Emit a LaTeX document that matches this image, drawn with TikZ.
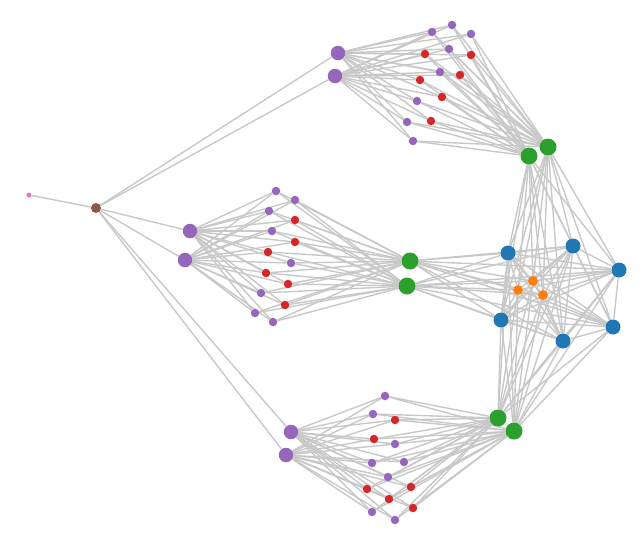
\documentclass[tikz,border=0pt]{standalone}
\usepackage{xcolor}
\usetikzlibrary{backgrounds}
\definecolor{netP}{RGB}{148,103,189}
\definecolor{netR}{RGB}{214,39,40}
\definecolor{netG}{RGB}{44,160,44}
\definecolor{netB}{RGB}{31,119,180}
\definecolor{netO}{RGB}{255,127,14}
\definecolor{netBr}{RGB}{140,86,75}
\definecolor{netPk}{RGB}{227,119,194}
\definecolor{netE}{RGB}{200,200,200}
\begin{document}
\begin{tikzpicture}[x=1pt, y=-1pt,
  vtx/.style={circle, inner sep=0pt, draw=none},
  hub/.style={vtx, fill=netP, minimum size=14.5pt},
  leafP/.style={vtx, fill=netP, minimum size=8.5pt},
  leafR/.style={vtx, fill=netR, minimum size=8.5pt},
  gate/.style={vtx, fill=netG, minimum size=17pt},
  core/.style={vtx, fill=netB, minimum size=15pt},
  inner/.style={vtx, fill=netO, minimum size=10pt},
  link/.style={draw=netE, line width=1.4pt}]
  \useasboundingbox (0,0) rectangle (644,539);
  % root and leaf
  \node[vtx, fill=netPk, minimum size=5pt] (leaf) at (29,195) {};
  \node[vtx, fill=netBr, minimum size=10pt] (root) at (96,208) {};
  % top cluster
  \node[hub] (hub-t-1) at (338,53) {};
  \node[hub] (hub-t-2) at (335,76) {};
  \node[leafP] (t-1) at (452,25) {};
  \node[leafP] (t-2) at (432,32) {};
  \node[leafP] (t-3) at (471,34) {};
  \node[leafP] (t-4) at (449,49) {};
  \node[leafP] (t-5) at (440,72) {};
  \node[leafP] (t-6) at (417,101) {};
  \node[leafP] (t-7) at (407,122) {};
  \node[leafP] (t-8) at (413,141) {};
  \node[leafR] (t-9) at (425,54) {};
  \node[leafR] (t-10) at (471,55) {};
  \node[leafR] (t-11) at (460,75) {};
  \node[leafR] (t-12) at (420,80) {};
  \node[leafR] (t-13) at (442,97) {};
  \node[leafR] (t-14) at (431,121) {};
  \node[gate] (gate-t-1) at (529,156) {};
  \node[gate] (gate-t-2) at (548,147) {};
  % middle cluster
  \node[hub] (hub-m-1) at (190,231) {};
  \node[hub] (hub-m-2) at (185,260) {};
  \node[leafP] (m-1) at (276,191) {};
  \node[leafP] (m-2) at (295,200) {};
  \node[leafP] (m-3) at (269,211) {};
  \node[leafP] (m-4) at (272,231) {};
  \node[leafP] (m-5) at (291,263) {};
  \node[leafP] (m-6) at (261,293) {};
  \node[leafP] (m-7) at (255,313) {};
  \node[leafP] (m-8) at (273,322) {};
  \node[leafR] (m-9) at (295,220) {};
  \node[leafR] (m-10) at (295,242) {};
  \node[leafR] (m-11) at (268,252) {};
  \node[leafR] (m-12) at (266,273) {};
  \node[leafR] (m-13) at (288,284) {};
  \node[leafR] (m-14) at (285,305) {};
  \node[gate] (gate-m-1) at (410,261) {};
  \node[gate] (gate-m-2) at (407,286) {};
  % bottom cluster
  \node[hub] (hub-b-1) at (291,432) {};
  \node[hub] (hub-b-2) at (286,455) {};
  \node[leafP] (b-1) at (385,396) {};
  \node[leafP] (b-2) at (373,414) {};
  \node[leafP] (b-3) at (395,444) {};
  \node[leafP] (b-4) at (372,463) {};
  \node[leafP] (b-5) at (404,462) {};
  \node[leafP] (b-6) at (388,477) {};
  \node[leafP] (b-7) at (372,512) {};
  \node[leafP] (b-8) at (395,520) {};
  \node[leafR] (b-9) at (395,420) {};
  \node[leafR] (b-10) at (374,439) {};
  \node[leafR] (b-11) at (411,487) {};
  \node[leafR] (b-12) at (367,489) {};
  \node[leafR] (b-13) at (389,499) {};
  \node[leafR] (b-14) at (413,508) {};
  \node[gate] (gate-b-1) at (498,418) {};
  \node[gate] (gate-b-2) at (514,431) {};
  % core
  \node[core] (core-1) at (508,253) {};
  \node[core] (core-2) at (573,246) {};
  \node[core] (core-3) at (619,270) {};
  \node[core] (core-4) at (501,320) {};
  \node[core] (core-5) at (563,341) {};
  \node[core] (core-6) at (613,327) {};
  \node[inner] (inner-1) at (533,281) {};
  \node[inner] (inner-2) at (518,290) {};
  \node[inner] (inner-3) at (543,295) {};
  % links
  \begin{scope}[on background layer]
    \draw[link] (leaf) -- (root);
    \foreach \c in {t,m,b}{
      \draw[link] (root) -- (hub-\c-1);
      \draw[link] (root) -- (hub-\c-2);
      \foreach \i in {1,...,14}
        \foreach \h in {hub-\c-1,hub-\c-2,gate-\c-1,gate-\c-2}
          \draw[link] (\c-\i) -- (\h);
      \foreach \g in {1,2}{
        \foreach \k in {1,...,6}
          \draw[link] (gate-\c-\g) -- (core-\k);
        \foreach \k in {1,2,3}
          \draw[link] (gate-\c-\g) -- (inner-\k);
      }
    }
    \foreach \k in {1,...,6}{
      \foreach \l in {1,...,6}{
        \ifnum\k<\l \draw[link] (core-\k) -- (core-\l); \fi
      }
      \foreach \j in {1,2,3}
        \draw[link] (core-\k) -- (inner-\j);
    }
  \end{scope}
\end{tikzpicture}
\end{document}
